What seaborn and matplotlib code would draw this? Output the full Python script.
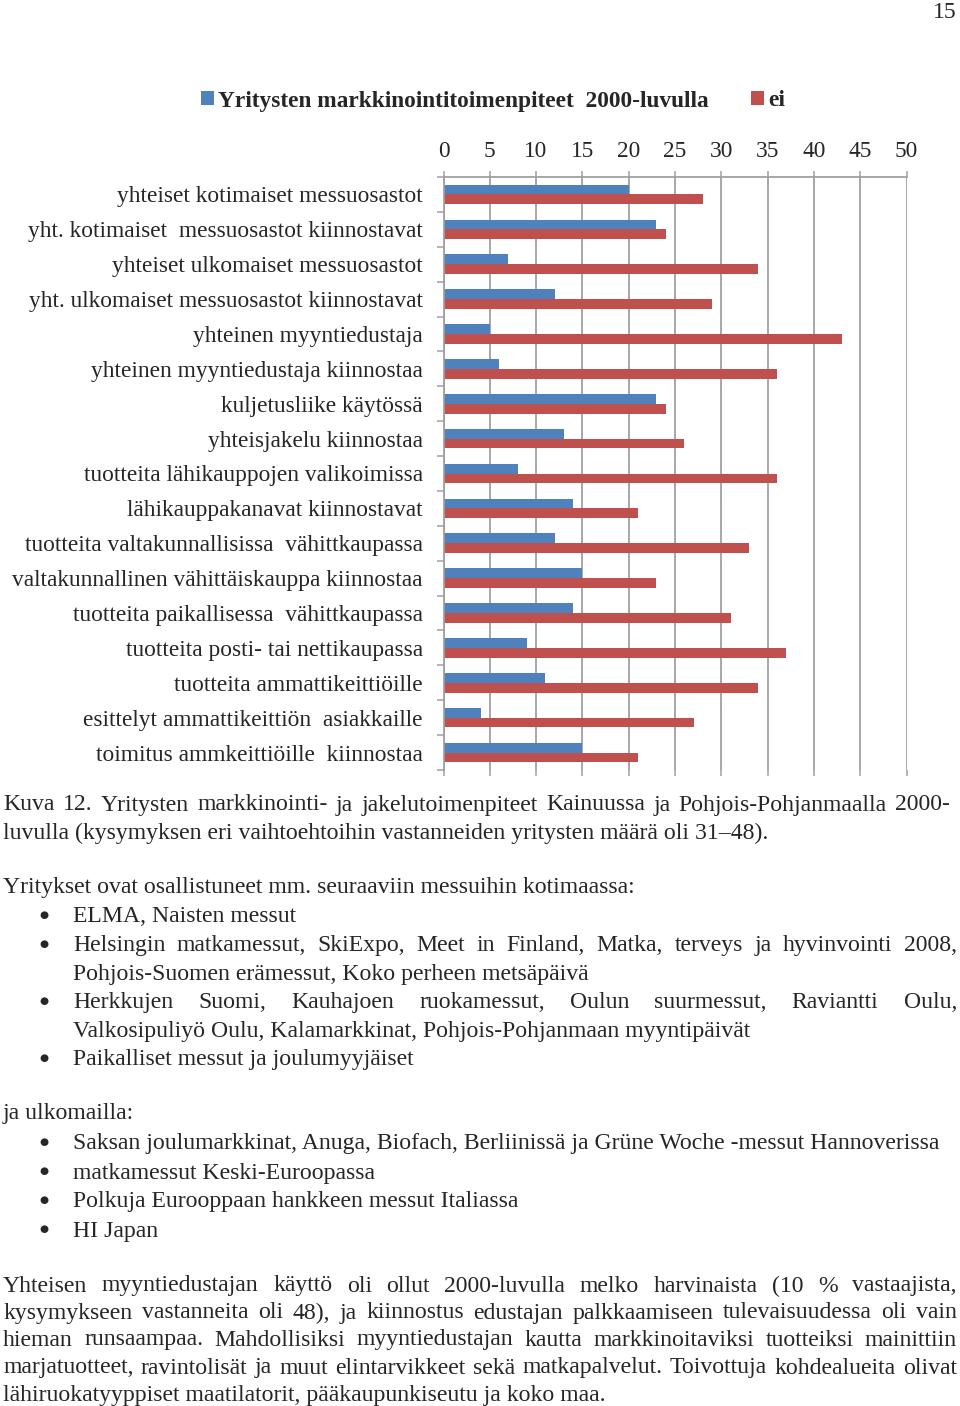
import matplotlib
matplotlib.use("Agg")
import matplotlib.pyplot as plt
import seaborn as sns
import pandas as pd
import numpy as np

# ---------------- data ----------------
categories = [
    "yhteiset kotimaiset messuosastot",
    "yht. kotimaiset  messuosastot kiinnostavat",
    "yhteiset ulkomaiset messuosastot",
    "yht. ulkomaiset messuosastot kiinnostavat",
    "yhteinen myyntiedustaja",
    "yhteinen myyntiedustaja kiinnostaa",
    "kuljetusliike käytössä",
    "yhteisjakelu kiinnostaa",
    "tuotteita lähikauppojen valikoimissa",
    "lähikauppakanavat kiinnostavat",
    "tuotteita valtakunnallisissa  vähittkaupassa",
    "valtakunnallinen vähittäiskauppa kiinnostaa",
    "tuotteita paikallisessa  vähittkaupassa",
    "tuotteita posti- tai nettikaupassa",
    "tuotteita ammattikeittiöille",
    "esittelyt ammattikeittiön  asiakkaille",
    "toimitus ammkeittiöille  kiinnostaa",
]
yes_values = [20, 23, 7, 12, 5, 6, 23, 13, 8, 14, 12, 15, 14, 9, 11, 4, 15]
no_values = [28, 24, 34, 29, 43, 36, 24, 26, 36, 21, 33, 23, 31, 37, 34, 27, 21]
series_names = ["Yritysten markkinointitoimenpiteet  2000-luvulla", "ei"]
x_ticks = [0, 5, 10, 15, 20, 25, 30, 35, 40, 45, 50]

caption_line1 = "Kuva 12. Yritysten markkinointi- ja jakelutoimenpiteet Kainuussa ja Pohjois-Pohjanmaalla 2000-"
caption_line2 = "luvulla (kysymyksen eri vaihtoehtoihin vastanneiden yritysten määrä oli 31–48)."
intro_home = "Yritykset ovat osallistuneet mm. seuraaviin messuihin kotimaassa:"
home_bullets = [
    ["ELMA, Naisten messut"],
    ["Helsingin matkamessut, SkiExpo, Meet in Finland, Matka, terveys ja hyvinvointi 2008,",
     "Pohjois-Suomen erämessut, Koko perheen metsäpäivä"],
    ["Herkkujen Suomi, Kauhajoen ruokamessut, Oulun suurmessut, Raviantti Oulu,",
     "Valkosipuliyö Oulu, Kalamarkkinat, Pohjois-Pohjanmaan myyntipäivät"],
    ["Paikalliset messut ja joulumyyjäiset"],
]
intro_abroad = "ja ulkomailla:"
abroad_bullets = [
    "Saksan joulumarkkinat, Anuga, Biofach, Berliinissä ja Grüne Woche -messut Hannoverissa",
    "matkamessut Keski-Euroopassa",
    "Polkuja Eurooppaan hankkeen messut Italiassa",
    "HI Japan",
]
paragraph = [
    "Yhteisen myyntiedustajan käyttö oli ollut 2000-luvulla melko harvinaista (10 % vastaajista,",
    "kysymykseen vastanneita oli 48), ja kiinnostus edustajan palkkaamiseen tulevaisuudessa oli vain",
    "hieman runsaampaa. Mahdollisiksi myyntiedustajan kautta markkinoitaviksi tuotteiksi mainittiin",
    "marjatuotteet, ravintolisät ja muut elintarvikkeet sekä matkapalvelut. Toivottuja kohdealueita olivat",
    "lähiruokatyyppiset maatilatorit, pääkaupunkiseutu ja koko maa.",
]
page_number = "15"

# ---------------- styling ----------------
sns.set_style("white")
plt.rcParams["font.family"] = ["Liberation Serif", "DejaVu Serif"]
FS = 16.8      # chart text
BFS = 17.1     # body text
BLUE = "#4F81BD"
RED = "#C0504D"
GRID = "#A0A0A0"

W, H = 960, 1406
fig = plt.figure(figsize=(W / 100, H / 100), dpi=100)

ax_left, ax_right, ax_top, ax_bottom = 443.5, 906.5, 177, 770
ax = fig.add_axes([ax_left / W, 1 - ax_bottom / H, (ax_right - ax_left) / W, (ax_bottom - ax_top) / H])

df = pd.DataFrame({
    "category": categories * 2,
    "value": yes_values + no_values,
    "series": [series_names[0]] * len(categories) + [series_names[1]] * len(categories),
})

sns.barplot(data=df, y="category", x="value", hue="series", order=categories,
            hue_order=series_names, palette=[BLUE, RED], orient="h",
            width=0.56, dodge=True, gap=0, linewidth=0, ax=ax, saturation=1)

ax.set_xlim(0, 50)
ax.set_ylim(len(categories) - 0.5, -0.5)
ax.set_xticks(x_ticks)
ax.set_xticklabels([str(t) for t in x_ticks])
ax.set_xlabel("")
ax.set_ylabel("")
ax.xaxis.tick_top()
ax.tick_params(axis="x", which="major", top=True, bottom=True, labeltop=True, labelbottom=False,
               length=4.5, width=1.1, color=GRID, pad=6.5, labelsize=FS)
ax.tick_params(axis="y", which="major", left=False, length=0, pad=15, labelsize=FS)
ax.set_yticks(np.arange(-0.5, len(categories), 1.0), minor=True)
ax.tick_params(axis="y", which="minor", left=True, length=5, width=1.1, color=GRID)
ax.grid(axis="x", color=GRID, linewidth=1.3)
ax.set_axisbelow(True)
for s in ["bottom", "right"]:
    ax.spines[s].set_visible(False)
for s in ["top", "left"]:
    ax.spines[s].set_color(GRID)
    ax.spines[s].set_linewidth(1.3)

sns.move_legend(ax, "center left", bbox_to_anchor=(201 / W, 1 - 101 / H),
                bbox_transform=fig.transFigure, ncol=2, frameon=False, title=None,
                prop={"weight": "bold", "size": FS}, handlelength=0.55, handleheight=0.55,
                handletextpad=0.2, columnspacing=1.8, borderaxespad=0, borderpad=0)

# ---------------- page text ----------------
renderer = fig.canvas.get_renderer()


def fx(x):
    return x / W


def fy(y):
    return 1 - y / H


def line(text, x, y):
    return fig.text(fx(x), fy(y), text, fontsize=BFS, va="center", ha="left")


def bullet(x, y):
    fig.text(fx(x), fy(y), "●", fontsize=7.5, va="center", ha="center", family="DejaVu Sans")


def justify(text, x0, x1, y):
    words = text.split(" ")
    objs = [fig.text(0, fy(y), w, fontsize=BFS, va="center", ha="left") for w in words]
    widths = [o.get_window_extent(renderer).width for o in objs]
    gap = (x1 - x0 - sum(widths)) / (len(words) - 1)
    x = x0
    for o, w in zip(objs, widths):
        o.set_x(fx(x))
        x += w + gap


fig.text(fx(957), fy(13), page_number, fontsize=BFS, va="center", ha="right")

justify(caption_line1, 3, 950, 805)
line(caption_line2, 3, 833)
line(intro_home, 3, 888)

bullet_x, text_x, text_right = 44, 73, 957
y = 917
step = 28.6
for item in home_bullets:
    bullet(bullet_x, y - 2)
    for i, ln in enumerate(item):
        if i < len(item) - 1:
            justify(ln, text_x, text_right, y)
        else:
            line(ln, text_x, y)
        y += step

line(intro_abroad, 3, 1114)
y = 1144
for ln in abroad_bullets:
    bullet(bullet_x, y - 2)
    line(ln, text_x, y)
    y += 29

para_y = [1286, 1313, 1340, 1368, 1395]
for i, ln in enumerate(paragraph):
    if i < len(paragraph) - 1:
        justify(ln, 3, 957, para_y[i])
    else:
        line(ln, 3, para_y[i])

fig.savefig("out.png", dpi=100)
